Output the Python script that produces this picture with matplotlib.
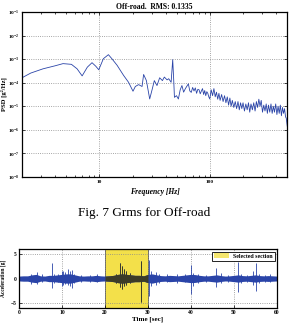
import matplotlib
matplotlib.use("Agg")
import matplotlib.pyplot as plt
from matplotlib.patches import Patch
from matplotlib.ticker import FixedLocator, FixedFormatter, NullLocator
import numpy as np

# PSD curve (frequency in Hz, log10 of PSD in g^2/Hz)
freq = [2.0, 2.4, 3.1, 4.0, 4.7, 5.6, 6.3, 7.0, 7.8, 8.6, 9.3, 9.9, 10.9, 12.1, 13.0,
        14.5, 16.6, 18.4, 20.2, 21.2, 22.7, 24.4, 25.2, 26.7, 28.6, 30.2, 31.5, 33.3,
        35.2, 37.3, 38.8, 41.1, 42.5, 44.7, 46.2, 47.2, 47.9,
        50, 52, 54, 56, 58, 60, 62, 64, 66, 68, 70, 72, 74, 76, 78, 80, 82, 84, 86,
        88, 90, 92, 94, 96, 98,
        100, 103, 106, 109, 112, 115, 118, 121, 124, 128, 132, 136, 140, 144, 148,
        152, 156, 160, 165, 170, 175, 180, 185, 190, 195, 200, 206, 212, 218, 224,
        230, 236, 243, 250, 257, 264, 271, 278, 285, 292, 300, 308, 316, 324, 332,
        340, 349, 358, 367, 376, 385, 395, 405, 415, 425, 435, 445, 455, 465, 475,
        485, 492, 498, 503]
psd_log10 = [-3.79, -3.59, -3.41, -3.28, -3.19, -3.22, -3.41, -3.71, -3.34, -3.15,
             -3.30, -3.45, -2.98, -2.81, -2.98, -3.26, -3.69, -3.98, -4.36, -4.16,
             -4.08, -4.16, -3.65, -3.91, -4.69, -4.26, -3.91, -4.12, -3.79, -3.91,
             -3.76, -3.88, -3.83, -3.98, -3.02, -3.91, -4.62,
             -4.55, -4.69, -4.30, -4.12, -4.40, -4.26, -4.15, -4.05, -4.35, -4.41,
             -4.20, -4.35, -4.22, -4.45, -4.28, -4.30, -4.47, -4.35, -4.25, -4.50,
             -4.33, -4.55, -4.38, -4.45, -4.60,
             -4.69, -4.30, -4.55, -4.25, -4.60, -4.40, -4.70, -4.45, -4.75, -4.50,
             -4.80, -4.55, -4.85, -4.60, -4.95, -4.65, -5.00, -4.75, -5.05, -4.80,
             -5.10, -4.80, -5.15, -4.85, -5.10, -4.85, -5.20, -4.90, -5.15, -4.85,
             -5.25, -4.90, -5.15, -4.85, -5.20, -4.80, -5.05, -4.70, -5.00, -4.75,
             -5.25, -4.95, -5.20, -4.90, -5.30, -4.95, -5.25, -4.90, -5.30, -5.00,
             -5.25, -4.90, -5.35, -5.00, -5.30, -4.95, -5.40, -5.05, -5.30, -5.10,
             -5.45, -5.50, -5.70, -5.85]

# acceleration record: envelope of the base noise (half width in g) per second
env_t = list(range(0, 61))
env_hw = [0.5, 0.55, 0.55, 0.75, 0.85, 0.55, 0.5, 0.65, 0.65, 0.75, 0.85, 0.95, 0.95,
          0.75, 0.55, 0.5, 0.55, 0.55, 0.65, 0.55, 0.5, 0.55, 0.65, 0.85, 0.95, 0.85,
          0.75, 0.65, 0.65, 0.55, 0.85, 0.95, 0.75, 0.6, 0.55, 0.65, 0.6, 0.55, 0.65,
          0.75, 0.85, 0.8, 0.65, 0.55, 0.55, 0.65, 0.75, 0.6, 0.5, 0.55, 0.65, 0.75,
          0.6, 0.55, 0.65, 0.75, 0.6, 0.55, 0.6, 0.55, 0.5]
# individual peaks: time [s], max and min [g]
spike_t = [2.8, 4.1, 5.3, 7.6, 8.2, 9.0, 9.9, 10.3, 10.8, 11.5, 11.9, 12.4, 12.9,
           14.5, 16.5, 18.1, 22.5, 23.5, 24.0, 24.4, 25.0, 25.8, 28.3, 30.3, 30.8,
           31.9, 32.6, 34.5, 36.8, 38.6, 40.1, 40.5, 41.6, 43.5, 45.8, 46.9, 48.5,
           50.9, 51.7, 53.0, 54.4, 55.1, 55.9, 57.2, 58.3]
spike_hi = [1.0, 1.3, 0.9, 3.2, 1.0, 0.9, 1.5, 1.6, 1.3, 2.0, 1.5, 1.7, 1.0, 0.8,
            0.8, 0.9, 1.0, 3.2, 2.5, 2.0, 1.5, 1.1, 3.6, 3.9, 1.5, 1.4, 1.0, 0.9,
            1.0, 0.9, 2.8, 1.2, 1.0, 0.8, 2.2, 1.2, 0.8, 3.3, 1.0, 0.8, 1.5, 3.2,
            1.0, 0.8, 0.9]
spike_lo = [-1.1, -1.2, -0.8, -1.9, -0.9, -0.8, -1.5, -1.4, -1.2, -1.3, -1.6, -2.0,
            -1.0, -0.7, -0.8, -0.8, -0.9, -1.8, -2.2, -1.5, -1.3, -1.0, -4.9, -3.6,
            -1.5, -1.3, -0.9, -0.8, -0.9, -0.8, -3.1, -1.5, -1.0, -0.8, -1.7, -1.0,
            -0.7, -2.8, -0.9, -0.8, -1.4, -2.6, -0.9, -0.8, -0.8]
sel_start, sel_end = 20, 30

plt.rcParams['font.family'] = 'Liberation Serif'
plt.rcParams['mathtext.fontset'] = 'stix'
azul = '#2a44a8'
amarillo = '#f3e04a'

fig = plt.figure(figsize=(2.9, 3.29), dpi=100)

# --- PSD ---
ax1 = fig.add_axes([0.0759, 0.462, 0.9138, 0.5015])
ax1.loglog(freq, 10 ** np.array(psd_log10), color=azul, lw=0.6)
ax1.set_xlim(2, 500)
ax1.set_ylim(1e-8, 1e-1)
ax1.set_yticks([10.0 ** k for k in range(-8, 0)])
ax1.xaxis.set_major_locator(FixedLocator([10, 100]))
ax1.xaxis.set_major_formatter(FixedFormatter(['10', '100']))
ax1.yaxis.set_minor_locator(NullLocator())
ax1.grid(True, which='major', linestyle=':', color='#888888', lw=0.6)
ax1.tick_params(which='both', direction='in', top=True, right=True, labelsize=3.8,
                length=2, width=0.5, pad=2)
ax1.tick_params(which='minor', length=1.5)
for lab in ax1.get_xticklabels() + ax1.get_yticklabels():
    lab.set_fontweight('bold')
for s in ax1.spines.values():
    s.set_linewidth(0.9)
ax1.set_title('Off-road.  RMS: 0.1335', fontsize=5.5, fontweight='bold', pad=2)
ax1.set_xlabel('Frequency [Hz]', fontsize=5.5, fontweight='bold', style='italic', labelpad=3)
ax1.set_ylabel('PSD [g²/Hz]', fontsize=4.8, fontweight='bold')
ax1.yaxis.set_label_coords(-0.055, 0.5)

fig.text(0.497, 0.3526, 'Fig. 7 Grms for Off-road', ha='center', va='center', fontsize=9.5)

# --- time record ---
ax2 = fig.add_axes([0.0655, 0.0647, 0.8895, 0.1775])
ax2.axvspan(sel_start, sel_end, facecolor=amarillo, edgecolor='#555555', lw=0.6, zorder=1)
ax2.fill_between(env_t, -np.array(env_hw), env_hw, color=azul, lw=0, zorder=2)
ax2.vlines(spike_t, spike_lo, spike_hi, color=azul, lw=0.6, zorder=2)
# the part of the record inside the selected window shows dark through the yellow
t_arr = np.array(env_t)
hw_arr = np.array(env_hw)
dentro = (t_arr >= sel_start) & (t_arr <= sel_end)
ax2.fill_between(t_arr[dentro], -hw_arr[dentro], hw_arr[dentro], color='#3c3c28', lw=0, zorder=3)
st = np.array(spike_t)
sel = (st > sel_start) & (st < sel_end)
ax2.vlines(st[sel], np.array(spike_lo)[sel], np.array(spike_hi)[sel], color='#3c3c28', lw=0.7, zorder=3)
ax2.set_xlim(0, 60)
ax2.set_ylim(-6, 6)
ax2.set_xticks(range(0, 61, 10))
ax2.set_yticks([-5, 0, 5])
ax2.grid(True, linestyle=':', color='#888888', lw=0.6)
ax2.tick_params(direction='in', labelsize=4, length=2, width=0.5, pad=2)
for lab in ax2.get_xticklabels() + ax2.get_yticklabels():
    lab.set_fontweight('bold')
for s in ax2.spines.values():
    s.set_linewidth(0.9)
ax2.set_xlabel('Time [sec]', fontsize=5, fontweight='bold', labelpad=1)
ax2.set_ylabel('Acceleration [g]', fontsize=4, fontweight='bold')
ax2.yaxis.set_label_coords(-0.05, 0.5)
leg = ax2.legend(handles=[Patch(facecolor=amarillo, alpha=0.8, label='Selected section')],
                 loc='upper right', fontsize=4.2, fancybox=False, edgecolor='black',
                 borderaxespad=0.4, handlelength=2.5, handleheight=0.9,
                 borderpad=0.3, framealpha=1)
leg.get_frame().set_linewidth(0.6)
for t in leg.get_texts():
    t.set_fontweight('bold')

fig.savefig('out.png', dpi=100)
